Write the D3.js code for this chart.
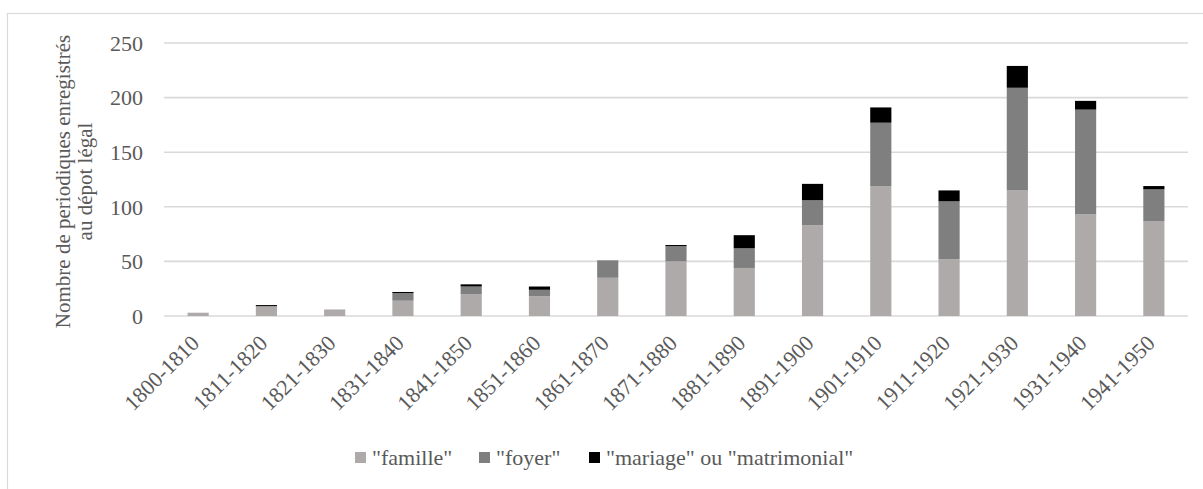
<!DOCTYPE html>
<html>
<head>
<meta charset="utf-8">
<script src="https://cdn.jsdelivr.net/npm/d3@7"></script>
<style>
  html, body { margin: 0; padding: 0; background: #fff; }
  svg { display: block; }
  text { font-family: "Liberation Serif", "DejaVu Serif", serif; }
</style>
</head>
<body>
<svg id="chart" width="1203" height="489"></svg>
<script>
const categories = ["1800-1810","1811-1820","1821-1830","1831-1840","1841-1850","1851-1860","1861-1870","1871-1880","1881-1890","1891-1900","1901-1910","1911-1920","1921-1930","1931-1940","1941-1950"];
const famille = [3, 9, 6, 14, 20, 18, 35, 50, 44, 83, 119, 52, 115, 93, 87];
const foyer   = [0, 0, 0, 7, 7, 6, 16, 14, 18, 23, 58, 53, 94, 96, 29];
const mariage = [0, 1, 0, 1, 2, 3, 0, 1, 12, 15, 14, 10, 20, 8, 3];
const seriesNames = ['"famille"', '"foyer"', '"mariage" ou "matrimonial"'];
const seriesColors = ["#aeaaaa", "#7f7f7f", "#000000"];
const yTicks = [0, 50, 100, 150, 200, 250];
const yTitle = ["Nombre de periodiques enregistrés", "au dépot légal"];

const svg = d3.select("#chart");
const plot = { left: 164, right: 1188, top: 43, bottom: 316 };

// frame
svg.append("rect").attr("x", 7.5).attr("y", 13.5).attr("width", 1240).attr("height", 520)
  .attr("fill", "none").attr("stroke", "#d9d9d9").attr("stroke-width", 1.2);

const x = d3.scaleBand().domain(categories).range([plot.left, plot.right]).paddingInner(0.69).paddingOuter(0.345);
const y = d3.scaleLinear().domain([0, 250]).range([plot.bottom, plot.top]);

// gridlines
svg.append("g").selectAll("line").data(yTicks).join("line")
  .attr("x1", plot.left).attr("x2", plot.right)
  .attr("y1", d => y(d)).attr("y2", d => y(d))
  .attr("stroke", "#d9d9d9").attr("stroke-width", 1.6);

// y tick labels
svg.append("g").selectAll("text").data(yTicks).join("text")
  .attr("x", 143).attr("y", d => y(d)).attr("dy", "0.35em")
  .attr("text-anchor", "end").attr("fill", "#595959").attr("font-size", 22)
  .text(d => d);

// stacked data
const rows = categories.map((c, i) => ({ cat: c, famille: famille[i], foyer: foyer[i], mariage: mariage[i] }));
const keys = ["famille", "foyer", "mariage"];
const stacked = d3.stack().keys(keys)(rows);

svg.append("g").selectAll("g").data(stacked).join("g")
  .attr("fill", (d, i) => seriesColors[i])
  .selectAll("rect").data(d => d).join("rect")
  .attr("x", d => x(d.data.cat))
  .attr("width", x.bandwidth())
  .attr("y", d => y(d[1]))
  .attr("height", d => y(d[0]) - y(d[1]));

// x labels
svg.append("g").selectAll("text").data(categories).join("text")
  .attr("transform", d => `translate(${x(d) + x.bandwidth() / 2 - 3},${plot.bottom + 23}) rotate(-45)`)
  .attr("text-anchor", "end").attr("dy", "0.35em")
  .attr("fill", "#595959").attr("font-size", 22)
  .text(d => d);

// y title
const yt = svg.append("text")
  .attr("transform", `translate(72,${(plot.top + plot.bottom) / 2 + 2}) rotate(-90)`)
  .attr("text-anchor", "middle").attr("fill", "#595959").attr("font-size", 21);
yt.selectAll("tspan").data(yTitle).join("tspan")
  .attr("x", 0).attr("dy", (d, i) => i === 0 ? "-0.1em" : "1.05em")
  .text(d => d);

// legend
const legendX = [355, 479, 589];
const lg = svg.append("g").selectAll("g").data(seriesNames).join("g")
  .attr("transform", (d, i) => `translate(${legendX[i]},452)`);
lg.append("rect").attr("width", 11).attr("height", 11).attr("fill", (d, i) => seriesColors[i]);
lg.append("text").attr("x", 17).attr("y", 5.5).attr("dy", "0.35em")
  .attr("fill", "#595959").attr("font-size", 22).text(d => d);
</script>
</body>
</html>
